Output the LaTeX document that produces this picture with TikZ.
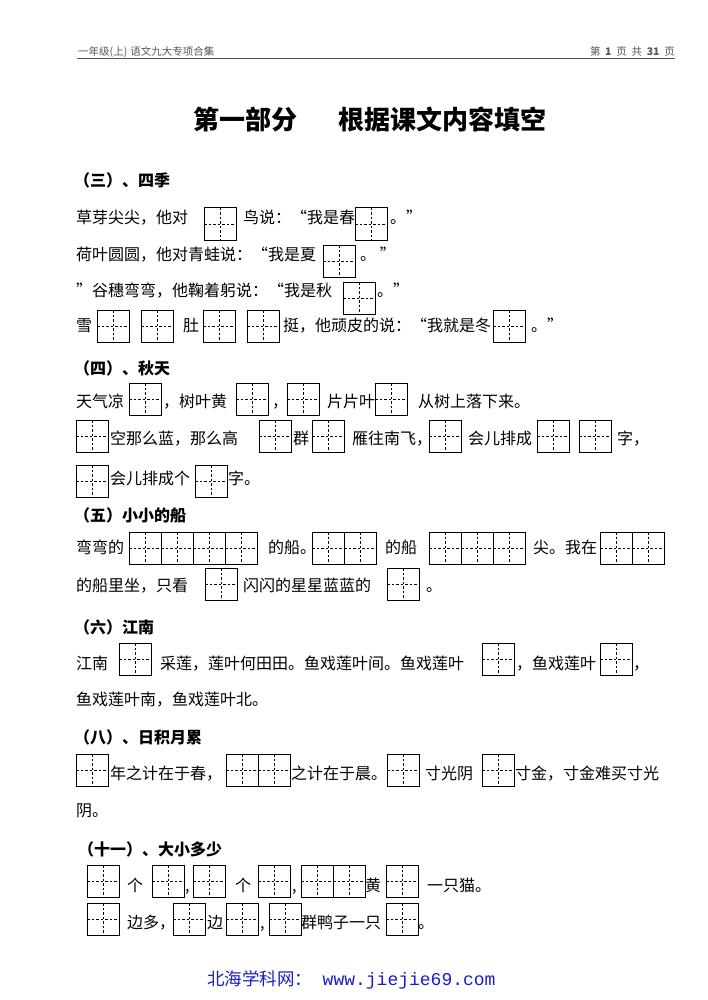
\documentclass[tikz,border=0pt]{standalone}
\usepackage{fontspec}
\setmainfont{Noto Sans CJK SC}
\newfontfamily\urlfont{Liberation Mono}
\definecolor{linkblue}{RGB}{28,28,200}
\definecolor{hdrgray}{RGB}{85,85,85}

\begin{document}
\begin{tikzpicture}[x=1pt,y=-1pt,
    txt/.style={anchor=base west,inner sep=0pt,font=\fontsize{16}{18}\selectfont},
    head/.style={anchor=base west,inner sep=0pt,font=\fontsize{16}{18}\selectfont\bfseries},
    hdr/.style={inner sep=0pt,text=hdrgray,font=\fontsize{10.5}{12}\selectfont},
    tzg/.pic={
        \draw[line width=1pt] (0,0) rectangle (32,32);
        \draw[line width=0.6pt,dash pattern=on 2.5pt off 2pt] (16,0) -- (16,32) (0,16) -- (32,16);
    }]
    \useasboundingbox[fill=white] (0,0) rectangle (707,1000);

    \node[hdr,anchor=base west] (hdl) at (78,56) {一年级(上)\hspace{0.3em}语文九大专项合集};
    \node[hdr,anchor=base east] (hdr) at (675,56) {第\hspace{0.45em}\textbf{1}\hspace{0.45em}页\hspace{0.45em}共\hspace{0.45em}\textbf{31}\hspace{0.45em}页};
    \draw[hdrgray,line width=0.8pt] (77,58.5) -- (675,58.5);
    \node[anchor=base west,inner sep=0pt,font=\fontsize{26}{30}\selectfont\bfseries] (ttl) at (193,130) {第一部分\hspace{1.6em}根据课文内容填空};

    % (三) 四季
    \node[head] (h3) at (74,187) {（三）、四季};
    \node[txt] (r1a) at (76,224) {草芽尖尖，他对};
    \pic at (204,208) {tzg};
    \node[txt] (r1b) at (243,224) {鸟说：“我是春};
    \pic at (355,208) {tzg};
    \node[txt] (r1c) at (390,224) {。”};
    \node[txt] (r2a) at (76,260) {荷叶圆圆，他对青蛙说：“我是夏};
    \pic at (323,245) {tzg};
    \node[txt] (r2c) at (360,260) {。 ”};
    \node[txt] (r3a) at (76,296) {”谷穗弯弯，他鞠着躬说：“我是秋};
    \pic at (343,282) {tzg};
    \node[txt] (r3c) at (377,296) {。”};
    \node[txt] (r4a) at (76,331) {雪};
    \pic at (97,310) {tzg};
    \pic at (141,310) {tzg};
    \node[txt] (r4b) at (183,331) {肚};
    \pic at (203,310) {tzg};
    \pic at (247,310) {tzg};
    \node[txt] (r4c) at (283,331) {挺，他顽皮的说：“我就是冬};
    \pic at (493,310) {tzg};
    \node[txt] (r4d) at (531,331) {。”};

    % (四) 秋天
    \node[head] (h4) at (74,374) {（四）、秋天};
    \node[txt] (ra1) at (76,407) {天气凉};
    \pic at (129,383) {tzg};
    \node[txt] (ra2) at (163,407) {，树叶黄};
    \pic at (236,383) {tzg};
    \node[txt] (ra3) at (272,407) {，};
    \pic at (287,383) {tzg};
    \node[txt] (ra4) at (327,407) {片片叶};
    \pic at (375,383) {tzg};
    \node[txt] (ra5) at (418,407) {从树上落下来。};
    \pic at (76,420) {tzg};
    \node[txt] (rb1) at (110,444) {空那么蓝，那么高};
    \pic at (259,420) {tzg};
    \node[txt] (rb2) at (293,444) {群};
    \pic at (312,420) {tzg};
    \node[txt] (rb3) at (352,444) {雁往南飞，};
    \pic at (429,420) {tzg};
    \node[txt] (rb4) at (468,444) {会儿排成};
    \pic at (537,420) {tzg};
    \pic at (579,420) {tzg};
    \node[txt] (rb5) at (617,444) {字，};
    \pic at (76,465) {tzg};
    \node[txt] (rc1) at (110,484) {会儿排成个};
    \pic at (195,465) {tzg};
    \node[txt] (rc2) at (228,484) {字。};

    % (五) 小小的船
    \node[head] (h5) at (74,521) {（五）小小的船};
    \node[txt] (rd1) at (76,553) {弯弯的};
    \foreach \i in {0,...,3} \pic at (129+32*\i,532) {tzg};
    \node[txt] (rd2) at (268,553) {的船。};
    \foreach \i in {0,1} \pic at (312+32*\i,532) {tzg};
    \node[txt] (rd3) at (385,553) {的船};
    \foreach \i in {0,...,2} \pic at (429+32*\i,532) {tzg};
    \node[txt] (rd4) at (533,553) {尖。我在};
    \foreach \i in {0,1} \pic at (600+32*\i,532) {tzg};
    \node[txt] (re1) at (76,591) {的船里坐，只看};
    \pic at (205,568) {tzg};
    \node[txt] (re2) at (243,591) {闪闪的星星蓝蓝的};
    \pic at (387,568) {tzg};
    \node[txt] (re3) at (426,591) {。};

    % (六) 江南
    \node[head] (h6) at (74,633) {（六）江南};
    \node[txt] (rf1) at (76,669) {江南};
    \pic at (119,643) {tzg};
    \node[txt] (rf2) at (160,669) {采莲，莲叶何田田。鱼戏莲叶间。鱼戏莲叶};
    \pic at (482,643) {tzg};
    \node[txt] (rf3) at (516,669) {，鱼戏莲叶};
    \pic at (600,643) {tzg};
    \node[txt] (rf4) at (633,669) {，};
    \node[txt] (rg1) at (76,705) {鱼戏莲叶南，鱼戏莲叶北。};

    % (八) 日积月累
    \node[head] (h8) at (74,743) {（八）、日积月累};
    \pic at (76,754) {tzg};
    \node[txt] (rh1) at (110,779) {年之计在于春，};
    \foreach \i in {0,1} \pic at (226+32*\i,754) {tzg};
    \node[txt] (rh2) at (291,779) {之计在于晨。};
    \pic at (387,754) {tzg};
    \node[txt] (rh3) at (425,779) {寸光阴};
    \pic at (482,754) {tzg};
    \node[txt] (rh4) at (515,779) {寸金，寸金难买寸光};
    \node[txt] (ri1) at (76,816) {阴。};

    % (十一) 大小多少
    \node[head] (h11) at (78,855) {（十一）、大小多少};
    \pic at (87,865) {tzg};
    \node[txt] (rj1) at (127,891) {个};
    \pic at (152,865) {tzg};
    \node[txt] (rj2) at (185,891) {,};
    \pic at (193,865) {tzg};
    \node[txt] (rj3) at (235,891) {个};
    \pic at (258,865) {tzg};
    \node[txt] (rj4) at (292,891) {,};
    \foreach \i in {0,1} \pic at (301+32*\i,865) {tzg};
    \node[txt] (rj5) at (365,891) {黄};
    \pic at (386,865) {tzg};
    \node[txt] (rj6) at (427,891) {一只猫。};
    \pic at (87,903) {tzg};
    \node[txt] (rk1) at (127,928) {边多，};
    \pic at (173,903) {tzg};
    \node[txt] (rk2) at (207,928) {边};
    \pic at (226,903) {tzg};
    \node[txt] (rk3) at (260,928) {,};
    \pic at (269,903) {tzg};
    \node[txt] (rk4) at (301,928) {群鸭子一只};
    \pic at (386,903) {tzg};
    \node[txt] (rk5) at (418,928) {。};

    \node[anchor=base west,inner sep=0pt,text=linkblue,font=\fontsize{17.5}{20}\selectfont] (web) at (207,985) {北海学科网：\hspace{0.6em}{\fontsize{18}{20}\urlfont www.jiejie69.com}};
\end{tikzpicture}
\end{document}
